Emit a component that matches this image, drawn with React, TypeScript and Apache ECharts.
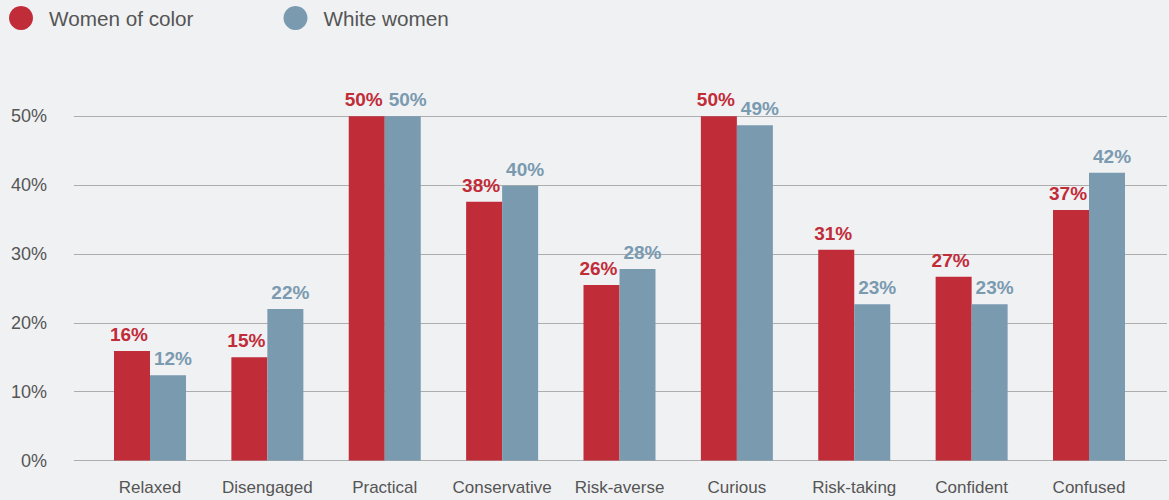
import React, { useEffect, useRef } from "react";
import * as echarts from "echarts";

const categories = ["Relaxed", "Disengaged", "Practical", "Conservative", "Risk-averse", "Curious", "Risk-taking", "Confident", "Confused"];
const womenOfColor = [15.9, 15.0, 50, 37.6, 25.5, 50, 30.6, 26.7, 36.4];
const whiteWomen = [12.4, 22.0, 50, 39.9, 27.8, 48.7, 22.7, 22.7, 41.8];
const womenOfColorLabels = ["16%", "15%", "50%", "38%", "26%", "50%", "31%", "27%", "37%"];
const whiteWomenLabels = ["12%", "22%", "50%", "40%", "28%", "49%", "23%", "23%", "42%"];
const seriesNames = ["Women of color", "White women"];
const yTicks = [0, 10, 20, 30, 40, 50];

const RED = "#c12c39";
const BLUE = "#7a9ab0";
const FONT = "'Helvetica Neue', Helvetica, Arial, 'Liberation Sans', sans-serif";

export default function App() {
  const ref = useRef<HTMLDivElement>(null);
  useEffect(() => {
    document.body.style.margin = "0";
    document.body.style.background = "#f0f1f3";
    const chart = echarts.init(ref.current!, null, { renderer: "svg" });
    const top = 116.3;
    const bottom = 39.5;
    chart.setOption({
      animation: false,
      backgroundColor: "#f0f1f3",
      textStyle: { fontFamily: FONT },
      legend: {
        left: 9,
        top: 6,
        padding: 0,
        itemWidth: 24,
        itemHeight: 24,
        itemGap: 90,
        icon: "circle",
        data: seriesNames,
        textStyle: { fontSize: 20.7, color: "#555", fontFamily: FONT, padding: [0, 0, 0, 11] },
      },
      grid: [
        { left: 74, right: 2, top, bottom },
        { left: 91.3, right: 21.3, top, bottom },
      ],
      xAxis: [
        { type: "category", gridIndex: 0, show: false, data: categories },
        {
          type: "category",
          gridIndex: 1,
          data: categories,
          axisLine: { show: false },
          axisTick: { show: false },
          axisLabel: { color: "#555", fontSize: 17, margin: 18, fontFamily: FONT, interval: 0 },
        },
      ],
      yAxis: [
        {
          type: "value",
          gridIndex: 0,
          min: yTicks[0],
          max: yTicks[yTicks.length - 1],
          interval: 10,
          axisLine: { show: false },
          axisTick: { show: false },
          splitLine: { lineStyle: { color: "#adadad", width: 1.2 } },
          axisLabel: { formatter: "{value}%", color: "#555", fontSize: 18, margin: 27, fontFamily: FONT },
        },
        {
          type: "value",
          gridIndex: 1,
          min: yTicks[0],
          max: yTicks[yTicks.length - 1],
          interval: 10,
          show: false,
        },
      ],
      series: [
        {
          name: seriesNames[0],
          type: "bar",
          xAxisIndex: 1,
          yAxisIndex: 1,
          data: womenOfColor,
          barWidth: 36,
          barGap: "0%",
          itemStyle: { color: RED },
          label: {
            show: true,
            position: "top",
            distance: 7,
            offset: [-3, 0],
            color: RED,
            fontSize: 19,
            fontWeight: "bold",
            fontFamily: FONT,
            formatter: (p: any) => womenOfColorLabels[p.dataIndex],
          },
        },
        {
          name: seriesNames[1],
          type: "bar",
          xAxisIndex: 1,
          yAxisIndex: 1,
          data: whiteWomen,
          barWidth: 36,
          barGap: "0%",
          itemStyle: { color: BLUE },
          label: {
            show: true,
            position: "top",
            distance: 7,
            offset: [5, 0],
            color: BLUE,
            fontSize: 19,
            fontWeight: "bold",
            fontFamily: FONT,
            formatter: (p: any) => whiteWomenLabels[p.dataIndex],
          },
        },
      ],
    });
    return () => chart.dispose();
  }, []);
  return <div ref={ref} style={{ width: 1169, height: 500 }} />;
}
